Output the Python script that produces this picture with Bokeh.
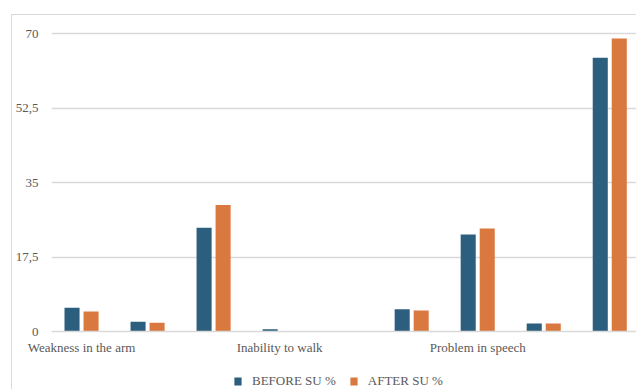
from bokeh.plotting import figure
from bokeh.layouts import column
from bokeh.models import ColumnDataSource, FixedTicker, Legend, LegendItem, Range1d
from bokeh.embed import file_html
from bokeh.resources import INLINE

# Symptom groups (only every third group carries a label on the axis)
labels = ["Weakness in the arm", "", "", "Inability to walk", "", "",
          "Problem in speech", "", ""]
before_su = [5.6, 2.3, 24.4, 0.5, 0.0, 5.2, 22.8, 1.9, 64.3]
after_su = [4.7, 2.05, 29.7, 0.0, 0.0, 4.95, 24.2, 1.9, 68.8]
y_ticks = [0, 17.5, 35, 52.5, 70]
y_tick_labels = ["0", "17,5", "35", "52,5", "70"]
series_names = ["BEFORE SU %", "AFTER SU %"]

BLUE = "#2c5f7e"
ORANGE = "#d9793f"
GRID = "#d9d9d9"
TEXT = "#595959"
FONT = "Liberation Serif"
FS = "13px"

idx = list(range(len(labels)))
offset = 0.144
bar_w = 0.228

src = ColumnDataSource(dict(
    x_before=[i - offset for i in idx],
    x_after=[i + offset for i in idx],
    before=before_su,
    after=after_su,
))

# ---- main bar chart -------------------------------------------------------
p = figure(
    frame_width=585, frame_height=301,
    x_range=(-0.455, 8.42), y_range=(0, 70.94),
    output_backend="svg", toolbar_location=None,
    min_border_left=39, min_border_right=0,
    min_border_top=14, min_border_bottom=29,
)
p.margin = (14, 0, 0, 11)
p.styles = {"border-left": f"1px solid {GRID}", "border-top": f"1px solid {GRID}"}
p.outline_line_color = None
p.border_fill_color = "white"

p.vbar(x="x_before", top="before", width=bar_w, bottom=0,
       source=src, fill_color=BLUE, line_color=None)
p.vbar(x="x_after", top="after", width=bar_w, bottom=0,
       source=src, fill_color=ORANGE, line_color=None)

# y axis
p.yaxis.ticker = FixedTicker(ticks=y_ticks)
p.yaxis.major_label_overrides = {t: s for t, s in zip(y_ticks, y_tick_labels)}
p.yaxis.axis_line_color = None
p.yaxis.major_tick_line_color = None
p.yaxis.minor_tick_line_color = None
p.yaxis.major_tick_out = 0
p.yaxis.major_tick_in = 0
p.yaxis.minor_tick_out = 0
p.yaxis.major_label_standoff = 13
p.yaxis.major_label_text_font = FONT
p.yaxis.major_label_text_font_size = FS
p.yaxis.major_label_text_color = TEXT

# x axis
p.xaxis.ticker = FixedTicker(ticks=[i for i in idx if labels[i]])
p.xaxis.major_label_overrides = {i: labels[i] for i in idx if labels[i]}
p.xaxis.axis_line_color = GRID
p.xaxis.axis_line_width = 1.5
p.xaxis.major_tick_line_color = None
p.xaxis.minor_tick_line_color = None
p.xaxis.major_tick_out = 0
p.xaxis.major_tick_in = 0
p.xaxis.minor_tick_out = 0
p.xaxis.major_label_standoff = 8
p.xaxis.major_label_text_font = FONT
p.xaxis.major_label_text_font_size = FS
p.xaxis.major_label_text_color = TEXT

p.xgrid.grid_line_color = None
p.ygrid.ticker = FixedTicker(ticks=y_ticks[1:])
p.ygrid.grid_line_color = GRID
p.ygrid.grid_line_width = 1.5

# ---- legend strip under the chart ----------------------------------------
lf = figure(
    width=624, height=30,
    x_range=Range1d(0, 1), y_range=Range1d(0, 1),
    output_backend="svg", toolbar_location=None,
    min_border=0,
)
lf.margin = (0, 0, 0, 11)
lf.styles = {"border-left": f"1px solid {GRID}"}
lf.xaxis.visible = False
lf.yaxis.visible = False
lf.grid.visible = False
lf.outline_line_color = None
lf.border_fill_color = "white"

# zero-height swatch renderers that only supply the legend's colour keys
swatch_src = ColumnDataSource(dict(x=[0.5], top=[0]))
sw_before = lf.vbar(x="x", top="top", width=0.01, source=swatch_src,
                    fill_color=BLUE, line_color=None)
sw_after = lf.vbar(x="x", top="top", width=0.01, source=swatch_src,
                   fill_color=ORANGE, line_color=None)

legend = Legend(
    items=[LegendItem(label=series_names[0], renderers=[sw_before]),
           LegendItem(label=series_names[1], renderers=[sw_after])],
    orientation="horizontal",
    location=(182, 0),
    padding=0, margin=0, spacing=13,
    glyph_width=9, glyph_height=10, label_standoff=10,
    label_text_font=FONT, label_text_font_size=FS, label_text_color=TEXT,
    label_height=15,
    border_line_color=None, background_fill_alpha=0,
)
lf.add_layout(legend, "center")

layout = column(p, lf, spacing=0)
open("out.html", "w").write(file_html(layout, INLINE))
